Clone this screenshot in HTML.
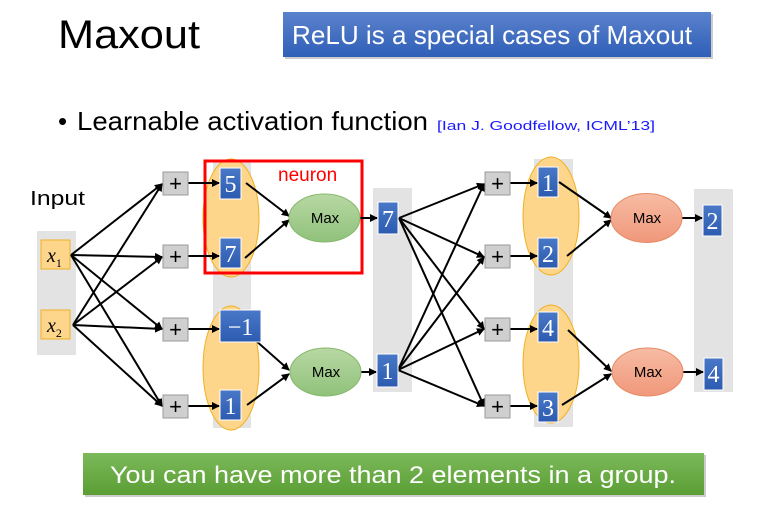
<!DOCTYPE html>
<html><head><meta charset="utf-8"><style>html,body{margin:0;padding:0;background:#fff}svg{display:block}</style></head><body>
<svg width="762" height="510" viewBox="0 0 762 510" xmlns="http://www.w3.org/2000/svg" font-family="Liberation Sans, sans-serif">
<defs>
<marker id="a" markerWidth="8" markerHeight="8" refX="7" refY="4" orient="auto" markerUnits="userSpaceOnUse"><path d="M0,0 L8,4 L0,8 z" fill="#000"/></marker>
<linearGradient id="bl" x1="0" y1="0" x2="0" y2="1"><stop offset="0" stop-color="#5b82cc"/><stop offset="1" stop-color="#2f5fb8"/></linearGradient>
<linearGradient id="gr" x1="0" y1="0" x2="0" y2="1"><stop offset="0" stop-color="#7cb95a"/><stop offset="1" stop-color="#5a9e34"/></linearGradient>
<linearGradient id="bx" x1="0" y1="0" x2="0" y2="1"><stop offset="0" stop-color="#4a78c8"/><stop offset="1" stop-color="#2c5bb0"/></linearGradient>
<linearGradient id="gm" x1="0" y1="0" x2="0" y2="1"><stop offset="0" stop-color="#b8d8a4"/><stop offset="1" stop-color="#8fc27a"/></linearGradient>
<linearGradient id="om" x1="0" y1="0" x2="0" y2="1"><stop offset="0" stop-color="#f7bca4"/><stop offset="1" stop-color="#f0977a"/></linearGradient>
</defs>
<text x="58" y="48" font-size="40" textLength="142" lengthAdjust="spacingAndGlyphs" fill="#000">Maxout</text>
<rect x="285" y="14" width="428" height="45" fill="#999" opacity="0.5"/>
<rect x="283" y="12" width="428" height="45" fill="url(#bl)"/>
<text x="292" y="44" font-size="26" fill="#fff" textLength="400" lengthAdjust="spacingAndGlyphs">ReLU is a special cases of Maxout</text>
<text x="58" y="130" font-size="26" fill="#000">•</text>
<text x="77" y="130" font-size="26" fill="#000" textLength="351" lengthAdjust="spacingAndGlyphs">Learnable activation function</text>
<text x="437" y="130" font-size="13" fill="#1a1aff" textLength="218" lengthAdjust="spacingAndGlyphs">[Ian J. Goodfellow, ICML’13]</text>
<text x="30" y="205" font-size="20" fill="#000" textLength="55" lengthAdjust="spacingAndGlyphs">Input</text>
<!-- gray columns -->
<rect x="37" y="231" width="39" height="124" fill="#e3e3e3"/>
<rect x="213" y="160" width="38" height="268" fill="#e3e3e3"/>
<rect x="373" y="188" width="39" height="204" fill="#e3e3e3"/>
<rect x="534" y="159" width="39" height="268" fill="#e3e3e3"/>
<rect x="694" y="189" width="39" height="203" fill="#e3e3e3"/>
<!-- ellipses -->
<g fill="#fdd68c" stroke="#f0b020" stroke-width="1">
<ellipse cx="231" cy="218" rx="28" ry="59"/>
<ellipse cx="231" cy="368" rx="28" ry="62"/>
<ellipse cx="551" cy="216" rx="28" ry="59"/>
<ellipse cx="551" cy="364" rx="28" ry="59"/>
</g>
<!-- red neuron box -->
<rect x="205" y="161" width="157" height="112" fill="none" stroke="#ff0000" stroke-width="3"/>
<text x="278" y="181" font-size="19" fill="#ff0000">neuron</text>
<!-- input boxes -->
<g fill="#fdd68c" stroke="#f0b020"><rect x="41" y="240" width="29" height="29"/><rect x="41" y="310" width="29" height="29"/></g>
<text x="47" y="262" font-size="20" font-family="Liberation Serif, serif" font-style="italic">x<tspan font-size="12" font-style="normal" dy="5">1</tspan></text>
<text x="47" y="332" font-size="20" font-family="Liberation Serif, serif" font-style="italic">x<tspan font-size="12" font-style="normal" dy="5">2</tspan></text>
<!-- arrows -->
<g stroke="#000" stroke-width="2" marker-end="url(#a)">
<line x1="71" y1="255" x2="162" y2="184"/><line x1="71" y1="255" x2="162" y2="257"/><line x1="71" y1="255" x2="162" y2="329"/><line x1="71" y1="255" x2="162" y2="406"/>
<line x1="73" y1="325" x2="162" y2="184"/><line x1="73" y1="325" x2="162" y2="257"/><line x1="73" y1="325" x2="162" y2="329"/><line x1="73" y1="325" x2="162" y2="406"/>
<line x1="188" y1="183" x2="219" y2="183"/><line x1="188" y1="256" x2="219" y2="256"/><line x1="188" y1="329" x2="219" y2="329"/><line x1="188" y1="406" x2="219" y2="406"/>
<line x1="246" y1="183" x2="289" y2="216"/><line x1="245" y1="258" x2="289" y2="220"/>
<line x1="246" y1="332" x2="289" y2="370"/><line x1="247" y1="405" x2="289" y2="374"/>
<line x1="360" y1="218" x2="377" y2="218"/><line x1="361" y1="372" x2="376" y2="372"/>
<line x1="399" y1="218" x2="484" y2="184"/><line x1="399" y1="218" x2="484" y2="257"/><line x1="399" y1="218" x2="484" y2="329"/><line x1="399" y1="218" x2="484" y2="406"/>
<line x1="398" y1="370" x2="484" y2="184"/><line x1="398" y1="370" x2="484" y2="257"/><line x1="398" y1="370" x2="484" y2="329"/><line x1="398" y1="370" x2="484" y2="406"/>
<line x1="510" y1="183" x2="537" y2="183"/><line x1="510" y1="256" x2="537" y2="256"/><line x1="510" y1="329" x2="537" y2="329"/><line x1="510" y1="406" x2="537" y2="406"/>
<line x1="559" y1="182" x2="611" y2="218"/><line x1="567" y1="256" x2="611" y2="220"/>
<line x1="568" y1="330" x2="611" y2="371"/><line x1="562" y1="405" x2="611" y2="374"/>
<line x1="682" y1="218" x2="702" y2="218"/><line x1="683" y1="372" x2="703" y2="372"/>
</g>
<!-- plus boxes -->
<g fill="#cfcfcf" stroke="#9a9a9a">
<rect x="163" y="172" width="25" height="23"/><rect x="163" y="245" width="25" height="23"/><rect x="163" y="318" width="25" height="23"/><rect x="163" y="395" width="25" height="23"/>
<rect x="485" y="172" width="25" height="23"/><rect x="485" y="245" width="25" height="23"/><rect x="485" y="318" width="25" height="23"/><rect x="485" y="395" width="25" height="23"/>
</g>
<g font-size="22" text-anchor="middle" fill="#000">
<text x="175.5" y="191">+</text><text x="175.5" y="264">+</text><text x="175.5" y="337">+</text><text x="175.5" y="414">+</text>
<text x="497.5" y="191">+</text><text x="497.5" y="264">+</text><text x="497.5" y="337">+</text><text x="497.5" y="414">+</text>
</g>
<!-- blue number boxes -->
<g fill="url(#bx)" stroke="#fff" stroke-width="1">
<rect x="220" y="168" width="21" height="31"/><rect x="220" y="238" width="21" height="30"/><rect x="220" y="310" width="41" height="32"/><rect x="220" y="390" width="21" height="30"/>
<rect x="378" y="202" width="20" height="32"/><rect x="377" y="354" width="21" height="33"/>
<rect x="538" y="167" width="20" height="30"/><rect x="538" y="238" width="20" height="30"/><rect x="538" y="312" width="20" height="30"/><rect x="538" y="392" width="20" height="30"/>
<rect x="703" y="205" width="19" height="31"/><rect x="704" y="358" width="19" height="32"/>
</g>
<g font-size="24" font-family="Liberation Serif, serif" fill="#fff" text-anchor="middle">
<text x="230.5" y="192">5</text><text x="230.5" y="262">7</text><text x="240.5" y="335">−1</text><text x="230.5" y="414">1</text>
<text x="388" y="227">7</text><text x="387.5" y="379">1</text>
<text x="548" y="191">1</text><text x="548" y="262">2</text><text x="548" y="336">4</text><text x="548" y="416">3</text>
<text x="712.5" y="229">2</text><text x="713.5" y="382">4</text>
</g>
<!-- max ellipses -->
<ellipse cx="324.5" cy="218" rx="35.5" ry="24" fill="url(#gm)" stroke="#86b86c"/>
<ellipse cx="325.5" cy="372" rx="35.5" ry="24" fill="url(#gm)" stroke="#86b86c"/>
<ellipse cx="646.5" cy="218" rx="35.5" ry="24.5" fill="url(#om)" stroke="#e88a66"/>
<ellipse cx="647.5" cy="372" rx="35.5" ry="24" fill="url(#om)" stroke="#e88a66"/>
<g font-size="15" text-anchor="middle" fill="#000">
<text x="325" y="223">Max</text><text x="326" y="377">Max</text><text x="647" y="223">Max</text><text x="648" y="377">Max</text>
</g>
<!-- green banner -->
<rect x="85" y="455" width="621" height="42" fill="#999" opacity="0.5"/>
<rect x="83" y="453" width="621" height="42" fill="url(#gr)"/>
<text x="110" y="483" font-size="24" fill="#fff" textLength="566" lengthAdjust="spacingAndGlyphs">You can have more than 2 elements in a group.</text>
</svg>
</body></html>
